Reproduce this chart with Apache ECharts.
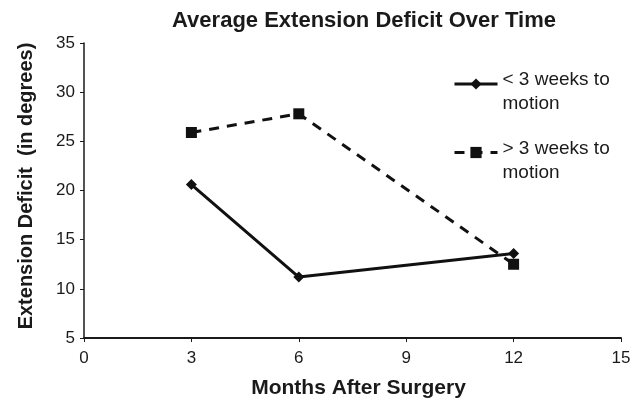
<!DOCTYPE html>
<html>
<head>
<meta charset="utf-8">
<script src="https://cdn.jsdelivr.net/npm/echarts@6/dist/echarts.min.js"></script>
<style>
  html, body { margin: 0; padding: 0; background: #fff; }
  #main { width: 642px; height: 402px; }
</style>
</head>
<body>
<div id="main"></div>
<script>
// data
var months = [3, 6, 12];
var lessThan3 = [20.6, 11.2, 13.6];
var moreThan3 = [25.9, 27.8, 12.5];
var seriesNames = ['< 3 weeks to\nmotion', '> 3 weeks to\nmotion'];

var chart = echarts.init(document.getElementById('main'));

function pairs(xs, ys) {
    return xs.map(function (x, i) { return [x, ys[i]]; });
}

chart.setOption({
    animation: false,
    textStyle: { fontFamily: 'Liberation Sans, Arial, sans-serif', color: '#1a1a1a' },
    title: {
        text: 'Average Extension Deficit Over Time',
        left: 359, textAlign: 'center', top: 5,
        textStyle: { fontSize: 22, fontWeight: 'bold', color: '#1a1a1a' }
    },
    legend: {
        orient: 'vertical',
        left: 453, top: 55, padding: 0,
        itemWidth: 43, itemHeight: 14,
        itemGap: 10,
        lineStyle: { width: 3 },
        // small blank first line so the marker sits by the first text line
        formatter: function (name) {
            return '{gap| }\n{t|' + name.split('\n').join('}\n{t|') + '}';
        },
        textStyle: {
            fontSize: 19, color: '#1a1a1a',
            rich: {
                gap: { lineHeight: 16, fontSize: 10 },
                t: { fontSize: 19, lineHeight: 24, color: '#1a1a1a' }
            }
        },
        data: seriesNames
    },
    grid: { left: 84, right: 21, top: 43, bottom: 64, outerBoundsMode: 'none' },
    xAxis: {
        type: 'value', min: 0, max: 15, interval: 3,
        name: 'Months After Surgery', nameLocation: 'middle', nameGap: 40,
        nameTextStyle: { fontSize: 21, fontWeight: 'bold', color: '#1a1a1a', padding: [0, 0, 0, 12] },
        axisLine: { lineStyle: { color: '#1a1a1a', width: 2 } },
        axisTick: { show: true, length: 4, lineStyle: { color: '#1a1a1a' } },
        axisLabel: { fontSize: 17, color: '#1a1a1a', margin: 12 },
        splitLine: { show: false }
    },
    yAxis: {
        type: 'value', min: 5, max: 35, interval: 5,
        name: 'Extension Deficit  (in degrees)', nameLocation: 'middle', nameGap: 48,
        nameTextStyle: { fontSize: 20, fontWeight: 'bold', color: '#1a1a1a', padding: [0, 0, 0, 9] },
        axisLine: { show: true, lineStyle: { color: '#1a1a1a', width: 1.5 } },
        axisTick: { show: true, length: 4, lineStyle: { color: '#1a1a1a' } },
        axisLabel: { fontSize: 17, color: '#1a1a1a', margin: 9 },
        splitLine: { show: false }
    },
    series: [
        {
            name: seriesNames[0], type: 'line',
            data: pairs(months, lessThan3),
            symbol: 'diamond', symbolSize: 11,
            itemStyle: { color: '#111' },
            lineStyle: { color: '#111', width: 3 }
        },
        {
            name: seriesNames[1], type: 'line',
            data: pairs(months, moreThan3),
            symbol: 'rect', symbolSize: 11,
            itemStyle: { color: '#111' },
            lineStyle: { color: '#111', width: 3, type: [10, 8] }
        }
    ]
});
</script>
</body>
</html>
